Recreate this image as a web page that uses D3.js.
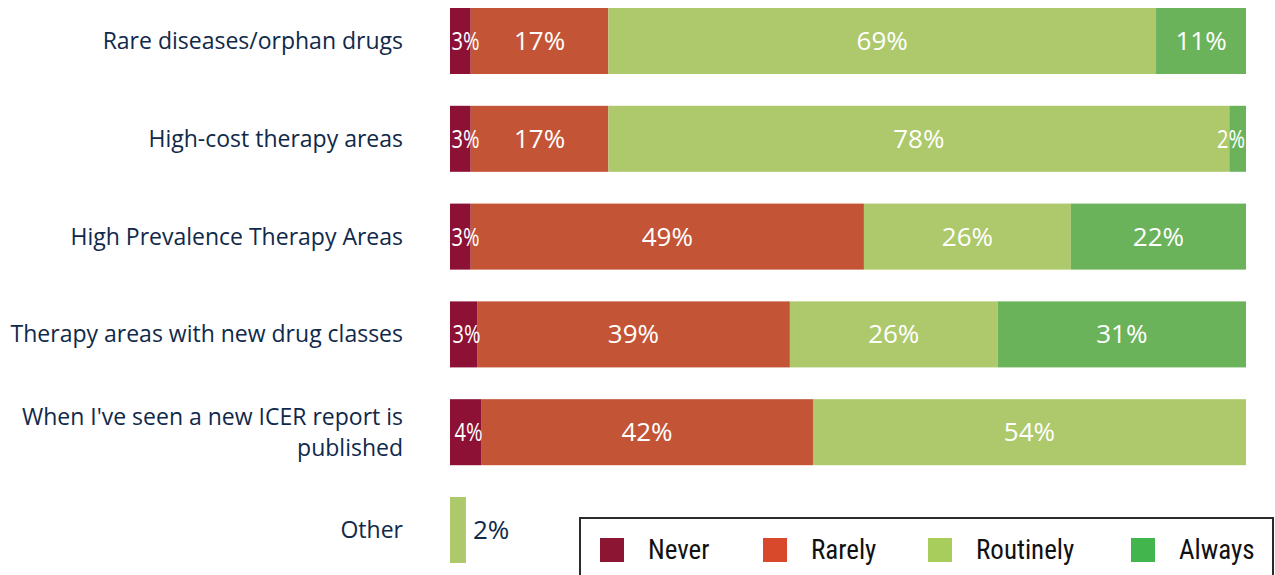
<!DOCTYPE html>
<html>
<head>
<meta charset="utf-8">
<script src="https://cdn.jsdelivr.net/npm/d3@7"></script>
<style>
  html, body { margin: 0; padding: 0; background: #fff; overflow: hidden; }
  svg { display: block; }
</style>
</head>
<body>
<svg id="chart" width="1275" height="575"></svg>
<script>
// ---- Data ----
const categories = [
  "Rare diseases/orphan drugs",
  "High-cost therapy areas",
  "High Prevalence Therapy Areas",
  "Therapy areas with new drug classes",
  "When I've seen a new ICER report is published",
  "Other"
];
const seriesNames = ["Never", "Rarely", "Routinely", "Always"];
const never     = [2.6, 2.6, 2.6, 3.4, 3.9, 0];
const rarely    = [17.3, 17.3, 49.4, 39.3, 41.7, 0];
const routinely = [68.8, 78.0, 26.0, 26.1, 54.4, 2.0];
const always    = [11.3, 2.1, 22.0, 31.2, 0, 0];

const barColors    = ["#8C1135", "#C35436", "#ADC96C", "#6BB35B"];
const legendColors = ["#8B1533", "#D8482B", "#A8CD5C", "#42B54C"];

// ---- Build ----
const svg = d3.select("#chart");
const rows = categories.map((c, i) => ({
  category: c, Never: never[i], Rarely: rarely[i], Routinely: routinely[i], Always: always[i]
}));
const stacked = d3.stack().keys(seriesNames)(rows);

const x = d3.scaleLinear().domain([0, 100]).range([450, 1246]);
const y = d3.scaleBand().domain(categories).range([8, 563]).paddingInner(0.325).paddingOuter(0);

const labelFont = "'Open Sans', 'Noto Sans', sans-serif";

// category labels
const labelWrap = {
  "When I've seen a new ICER report is published": ["When I've seen a new ICER report is", "published"]
};
const catG = svg.append("g");
categories.forEach(c => {
  const lines = labelWrap[c] || [c];
  const cy = y(c) + y.bandwidth() / 2;
  const lh = 31;
  const t = catG.append("text")
    .attr("x", 403)
    .attr("text-anchor", "end")
    .attr("font-family", labelFont)
    .attr("font-size", 23)
    .attr("fill", "#10294A");
  lines.forEach((ln, k) => {
    t.append("tspan")
      .attr("x", 403)
      .attr("y", cy + (k - (lines.length - 1) / 2) * lh)
      .attr("dy", "0.35em")
      .text(ln);
  });
});

// bars
const segG = svg.append("g");
stacked.forEach((s, si) => {
  const g = segG.append("g").attr("fill", barColors[si]);
  g.selectAll("rect")
    .data(s.filter(d => d[1] - d[0] > 0))
    .join("rect")
    .attr("x", d => x(d[0]))
    .attr("y", d => y(d.data.category))
    .attr("width", d => x(d[1]) - x(d[0]))
    .attr("height", y.bandwidth());
});

// value labels
const valG = svg.append("g");
const smallW = 28;
stacked.forEach((s, si) => {
  s.forEach(d => {
    const v = d[1] - d[0];
    if (v <= 0) return;
    const cy = y(d.data.category) + y.bandwidth() / 2;
    const isOther = d.data.category === "Other";
    const txt = Math.round(v) + "%";
    const t = valG.append("text")
      .attr("y", cy)
      .attr("dy", "0.35em")
      .attr("font-family", labelFont)
      .attr("font-size", 26)
      .text(txt);
    if (isOther) {
      t.attr("x", x(d[1]) + 7).attr("text-anchor", "start").attr("fill", "#10294A");
    } else {
      const w = x(d[1]) - x(d[0]);
      let cx = (x(d[0]) + x(d[1])) / 2;
      if (w < 35) {
        cx = Math.max(x(0) + 15.5, Math.min(x(100) - 15, cx + 3));
        t.attr("textLength", smallW).attr("lengthAdjust", "spacingAndGlyphs");
      }
      t.attr("x", cx).attr("text-anchor", "middle").attr("fill", "#ffffff");
    }
  });
});

// legend
const leg = svg.append("g");
leg.append("rect")
  .attr("x", 580).attr("y", 518)
  .attr("width", 693).attr("height", 80)
  .attr("fill", "#fff").attr("stroke", "#2b2b2b").attr("stroke-width", 2);
const legX = [600, 763, 928, 1131];
seriesNames.forEach((n, i) => {
  leg.append("rect")
    .attr("x", legX[i]).attr("y", 538)
    .attr("width", 24).attr("height", 24)
    .attr("fill", legendColors[i]);
  leg.append("text")
    .attr("x", legX[i] + 48).attr("y", 550)
    .attr("dy", "0.35em")
    .attr("font-family", "'Liberation Sans Narrow', 'Roboto Condensed', 'Liberation Sans', sans-serif")
    .attr("font-size", 27)
    .attr("fill", "#111")
    .text(n);
});
</script>
</body>
</html>
